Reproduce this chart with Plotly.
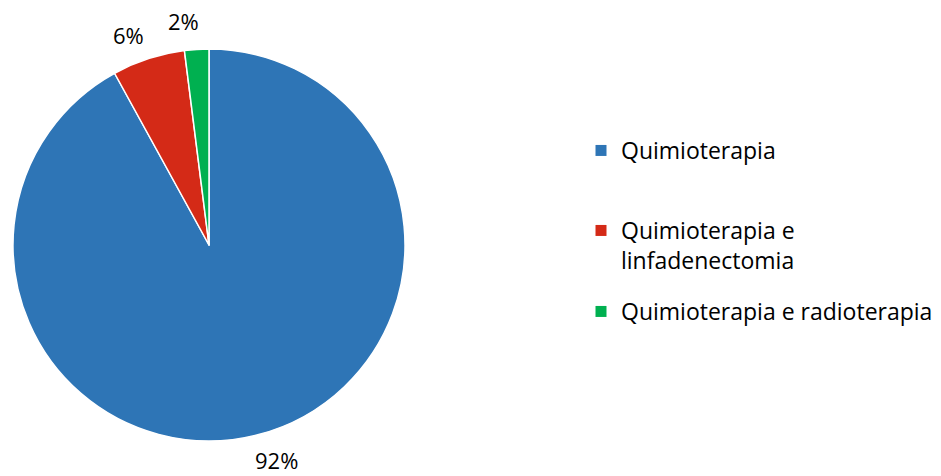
import math
import plotly.graph_objects as go

labels = ["Quimioterapia", "Quimioterapia e<br>linfadenectomia", "Quimioterapia e radioterapia"]
values = [92, 6, 2]
colors = ["#2E75B6", "#D42A17", "#00B050"]

W, H = 941, 476
CX, CY, R = 209, 245, 196   # pie centre / radius in figure px
FONT = "Open Sans"
FS = 23
LABEL_R = 1.15
LABEL_ROT = -3.0   # degrees, small shift of label placement

fig = go.Figure()
fig.add_trace(go.Pie(
    labels=labels,
    values=values,
    sort=False,
    direction="clockwise",
    rotation=0,
    marker=dict(colors=colors, line=dict(color="white", width=1.5)),
    textinfo="none",
    domain=dict(x=[(CX - R) / W, (CX + R) / W], y=[1 - (CY + R) / H, 1 - (CY - R) / H]),
    hoverinfo="label+percent",
    showlegend=False,
))

# percentage labels placed outside at each slice's mid angle
total = sum(values)
cum = 0
for v in values:
    mid = (cum + v / 2) / total * 2 * math.pi + math.radians(LABEL_ROT)
    cum += v
    px = CX + R * LABEL_R * math.sin(mid)
    py = CY - R * LABEL_R * math.cos(mid)
    fig.add_annotation(x=px / W, y=1 - py / H, xref="paper", yref="paper",
                       xanchor="center", yanchor="middle",
                       text=f"{round(v / total * 100)}%", showarrow=False,
                       font=dict(family=FONT, size=FS - 1, color="#000000"))

# legend entries, each in its own legend box to match spacing
legend_tops = [150, 230, 311]
for i, (lab, col) in enumerate(zip(labels, colors)):
    name = "legend" if i == 0 else f"legend{i + 1}"
    fig.add_trace(go.Scatter(x=[None], y=[None], mode="markers", name=lab,
                             marker=dict(symbol="square", size=11, color=col),
                             legend=name, hoverinfo="skip"))
    fig.update_layout({name: dict(x=581 / W, y=1 - (legend_tops[i] - 21) / H,
                                  xanchor="left", yanchor="top", valign="top",
                                  bgcolor="rgba(0,0,0,0)",
                                  font=dict(family=FONT, size=FS, color="#000000"),
                                  itemwidth=30)})

fig.update_layout(
    width=W, height=H,
    margin=dict(l=0, r=0, t=0, b=0),
    paper_bgcolor="white",
    plot_bgcolor="white",
    font=dict(family=FONT, size=FS, color="#000000"),
    xaxis=dict(visible=False),
    yaxis=dict(visible=False),
    showlegend=True,
)
fig.write_html("out.html", config={"displayModeBar": False},
               post_script="document.body.style.margin='0px';")
